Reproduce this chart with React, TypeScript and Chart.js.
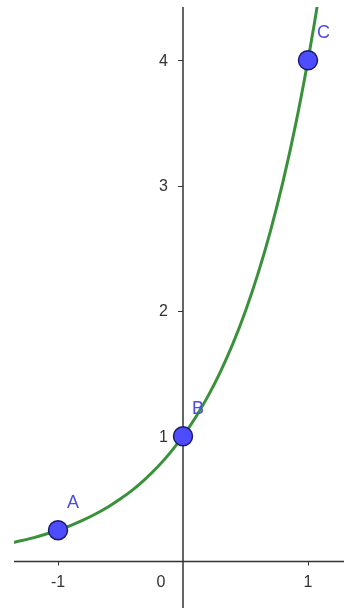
import React, { useEffect, useRef } from "react";
import { Chart, registerables } from "chart.js";

Chart.register(...registerables);

// Exponential curve f(x) = 4^x, sampled along the visible range
const curveX = [-1.36, -1.3, -1.2, -1.1, -1.0, -0.9, -0.8, -0.7, -0.6, -0.5, -0.4, -0.3, -0.2, -0.1, 0, 0.1, 0.2, 0.3, 0.4, 0.5, 0.6, 0.7, 0.8, 0.9, 1.0, 1.05, 1.1];
const curveY = [0.152, 0.165, 0.189, 0.218, 0.25, 0.287, 0.33, 0.379, 0.435, 0.5, 0.574, 0.66, 0.758, 0.871, 1, 1.149, 1.32, 1.516, 1.741, 2.0, 2.297, 2.639, 3.031, 3.482, 4.0, 4.287, 4.595];

// Labelled points on the curve
const pointNames = ["A", "B", "C"];
const pointX = [-1, 0, 1];
const pointY = [0.25, 1, 4];

// Axis ticks
const xTickValues = [-1, 1];
const yTickValues = [1, 2, 3, 4];
const originLabel = "0";

const GREEN = "#3b913b";
const POINT_FILL = "#4d4dff";
const POINT_EDGE = "#1c1c66";
const LABEL_BLUE = "#4d4de0";
const AXIS = "#333333";
const FONT_FAMILY = '"Liberation Sans", Arial, sans-serif';

// Axes crossing at the origin, with small tick marks and numbers
const originAxesPlugin = {
  id: "originAxes",
  beforeDatasetsDraw(chart: any) {
    const { ctx, scales, chartArea } = chart;
    const xs = scales.x;
    const ys = scales.y;
    const x0 = xs.getPixelForValue(0);
    const y0 = ys.getPixelForValue(0);
    ctx.save();
    ctx.strokeStyle = AXIS;
    ctx.lineWidth = 1.5;
    ctx.beginPath();
    ctx.moveTo(chartArea.left, y0);
    ctx.lineTo(chartArea.right, y0);
    ctx.moveTo(x0, chartArea.top);
    ctx.lineTo(x0, chartArea.bottom);
    ctx.stroke();

    ctx.lineWidth = 1;
    ctx.beginPath();
    xTickValues.forEach((v) => {
      const px = Math.round(xs.getPixelForValue(v)) + 0.5;
      ctx.moveTo(px, y0);
      ctx.lineTo(px, y0 + 4);
    });
    yTickValues.forEach((v) => {
      const py = Math.round(ys.getPixelForValue(v)) + 0.5;
      ctx.moveTo(x0, py);
      ctx.lineTo(x0 - 5, py);
    });
    ctx.stroke();

    ctx.font = `16px ${FONT_FAMILY}`;
    ctx.fillStyle = AXIS;
    ctx.textBaseline = "middle";
    ctx.textAlign = "center";
    xTickValues.forEach((v) => {
      ctx.fillText(String(v), xs.getPixelForValue(v), y0 + 21);
    });
    ctx.fillText(originLabel, x0 - 22, y0 + 21);
    ctx.textAlign = "right";
    yTickValues.forEach((v) => {
      ctx.fillText(String(v), x0 - 15, ys.getPixelForValue(v) + 1);
    });
    ctx.restore();
  },
  afterDatasetsDraw(chart: any) {
    const { ctx, scales } = chart;
    ctx.save();
    ctx.font = `18px ${FONT_FAMILY}`;
    ctx.fillStyle = LABEL_BLUE;
    ctx.textAlign = "left";
    ctx.textBaseline = "alphabetic";
    pointNames.forEach((name, i) => {
      const px = scales.x.getPixelForValue(pointX[i]);
      const py = scales.y.getPixelForValue(pointY[i]);
      ctx.fillText(name, px + 9, py - 22);
    });
    ctx.restore();
  },
};

export default function App() {
  const canvasRef = useRef<HTMLCanvasElement>(null);

  useEffect(() => {
    document.body.style.margin = "0";
    const canvas = canvasRef.current;
    if (!canvas) return;

    const chart = new Chart(canvas, {
      type: "scatter",
      data: {
        datasets: [
          {
            data: pointX.map((x, i) => ({ x, y: pointY[i] })),
            pointRadius: 9.5,
            pointHoverRadius: 9.5,
            pointBackgroundColor: POINT_FILL,
            pointBorderColor: POINT_EDGE,
            pointBorderWidth: 1.5,
            showLine: false,
            clip: false,
          },
          {
            type: "line",
            data: curveX.map((x, i) => ({ x, y: curveY[i] })),
            borderColor: GREEN,
            borderWidth: 3,
            pointRadius: 0,
            fill: false,
            cubicInterpolationMode: "monotone",
          } as any,
        ],
      },
      options: {
        responsive: false,
        animation: false,
        devicePixelRatio: 1,
        layout: { autoPadding: false, padding: { left: 14, top: 7, right: 0, bottom: 0 } },
        plugins: { legend: { display: false }, tooltip: { enabled: false } },
        events: [],
        scales: {
          x: { type: "linear", display: false, min: -1.352, max: 1.288 },
          y: { type: "linear", display: false, min: -0.371, max: 4.425 },
        },
      },
      plugins: [originAxesPlugin],
    });

    return () => chart.destroy();
  }, []);

  return (
    <div style={{ width: 344, height: 608 }}>
      <canvas ref={canvasRef} width={344} height={608} />
    </div>
  );
}
